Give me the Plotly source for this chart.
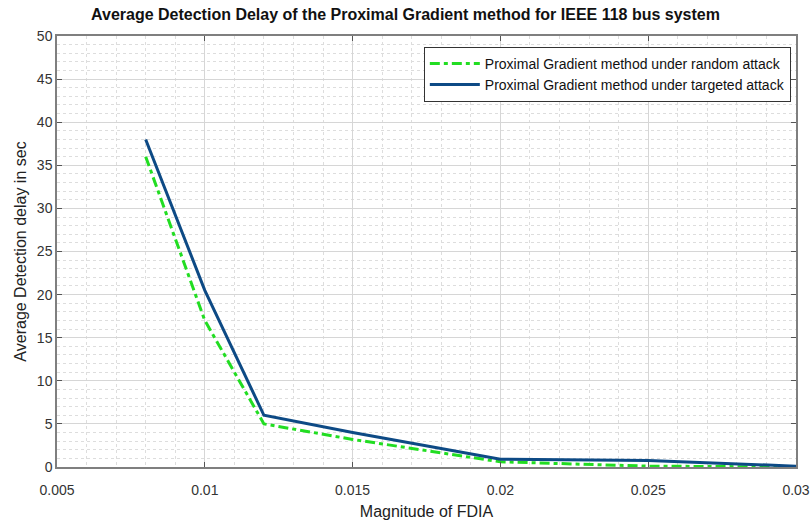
import plotly.graph_objects as go

x_vals = [0.008, 0.01, 0.012, 0.015, 0.02, 0.025, 0.03]
random_attack = [36, 17, 5, 3.2, 0.6, 0.1, 0.0]
targeted_attack = [38, 20.5, 6, 4.0, 0.9, 0.75, 0.1]

FONT = "Liberation Sans, Arial, sans-serif"

fig = go.Figure()
fig.add_trace(go.Scatter(
    x=x_vals, y=random_attack, mode="lines",
    name="Proximal Gradient method under random attack",
    line=dict(color="#22dd22", width=3, dash="10px,4px,4px,4px")))
fig.add_trace(go.Scatter(
    x=x_vals, y=targeted_attack, mode="lines",
    name="Proximal Gradient method under targeted attack",
    line=dict(color="#0d4a85", width=3)))

axis_common = dict(
    showline=True, linecolor="#7f7f7f", linewidth=1.5, mirror="ticks",
    ticks="inside", ticklen=5, tickcolor="#555555",
    showgrid=True, gridcolor="#d6d6d6", gridwidth=1,
    zeroline=False, automargin=False,
    tickfont=dict(family=FONT, size=14, color="#333333"),
)

fig.update_xaxes(
    range=[0.005, 0.03], tickvals=[0.005, 0.01, 0.015, 0.02, 0.025, 0.03],
    ticktext=["0.005", "0.01", "0.015", "0.02", "0.025", "0.03"],
    ticklabelstandoff=9,
    title=dict(text="Magnitude of FDIA", font=dict(family=FONT, size=16, color="#222222"), standoff=10),
    minor=dict(dtick=0.001, showgrid=True, gridcolor="#dddddd", griddash="dot", gridwidth=1),
    **axis_common)
fig.update_yaxes(
    range=[0, 50], dtick=5,
    title=dict(text="Average Detection delay in sec", font=dict(family=FONT, size=16, color="#222222"), standoff=6),
    minor=dict(dtick=1, showgrid=True, gridcolor="#dddddd", griddash="dot", gridwidth=1),
    **axis_common)

fig.update_layout(
    width=811, height=520,
    margin=dict(l=57, r=15, t=36, b=53),
    paper_bgcolor="white", plot_bgcolor="white",
    title=dict(text="<b>Average Detection Delay of the Proximal Gradient method for IEEE 118 bus system</b>",
               x=0.5, xanchor="center", y=0.972, yanchor="middle",
               font=dict(family=FONT, size=16, color="#111111")),
    legend=dict(x=0.993, y=0.975, xanchor="right", yanchor="top",
                bgcolor="white", bordercolor="#333333", borderwidth=1,
                font=dict(family=FONT, size=14, color="#111111"),
                tracegroupgap=0, itemwidth=50),
    showlegend=True,
)

fig.write_html("out.html")
